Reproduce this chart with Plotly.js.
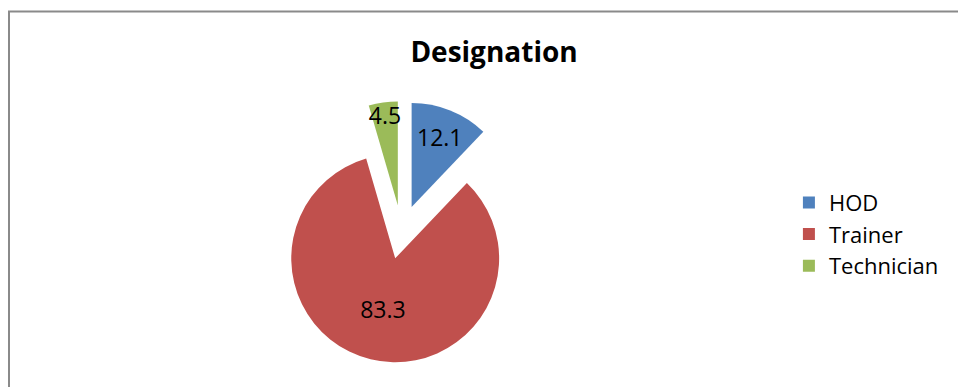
<!DOCTYPE html>
<html>
<head>
<meta charset="utf-8">
<script src="https://cdn.plot.ly/plotly-3.0.1.min.js"></script>
<style>
html,body{margin:0;padding:0;background:#fff;}
#chart{width:958px;height:387px;}
</style>
</head>
<body>
<div id="chart"></div>
<script>
const categories = ["HOD", "Trainer", "Technician"];
const values = [12.1, 83.3, 4.5];
const sliceColors = ["#4F81BD", "#C0504D", "#9BBB59"];
const chartTitle = "Designation";

const trace = {
  type: "pie",
  labels: categories,
  values: values,
  sort: false,
  direction: "clockwise",
  rotation: 0,
  pull: [0.26, 0.26, 0.26],
  marker: {colors: sliceColors, line: {width: 0}},
  textinfo: "value",
  texttemplate: "%{value}",
  textposition: "inside",
  insidetextorientation: "horizontal",
  textfont: {family: "Open Sans", size: 23, color: "#000"},
  hoverinfo: "label+value",
  domain: {x: [0.2825, 0.5559], y: [0.0618, 0.7388]},
  showlegend: true
};

const layout = {
  width: 958,
  height: 387,
  margin: {l: 0, r: 0, t: 0, b: 0},
  paper_bgcolor: "#fff",
  plot_bgcolor: "#fff",
  title: {
    text: chartTitle,
    font: {family: "Open Sans", size: 28, weight: 700, color: "#000"},
    x: 0.5157, xanchor: "center", xref: "paper",
    y: 0.864, yanchor: "middle", yref: "paper"
  },
  uniformtext: {mode: "show", minsize: 23},
  legend: {
    x: 0.8235, xanchor: "left",
    y: 0.395, yanchor: "middle",
    font: {family: "Open Sans", size: 22, color: "#000"},
    bgcolor: "rgba(0,0,0,0)"
  },
  shapes: [{
    type: "rect", xref: "paper", yref: "paper",
    x0: 9/958, x1: 1.05, y0: -0.05, y1: (387-11.5)/387,
    line: {color: "#8a8a8a", width: 2}, fillcolor: "rgba(0,0,0,0)"
  }]
};

Plotly.newPlot("chart", [trace], layout, {displayModeBar: false, staticPlot: true});
</script>
</body>
</html>
